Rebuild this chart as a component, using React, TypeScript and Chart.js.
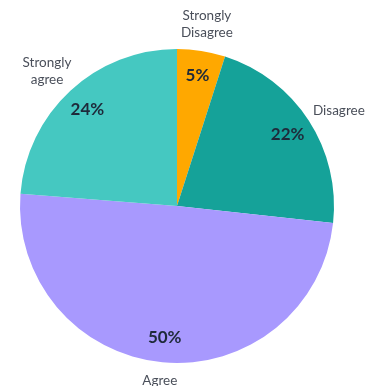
import React, { useEffect, useRef } from "react";
import { Chart, registerables } from "chart.js";

Chart.register(...registerables);

const categories = ["Strongly Disagree", "Disagree", "Agree", "Strongly agree"];
const categoryLines = [["Strongly", "Disagree"], ["Disagree"], ["Agree"], ["Strongly", "agree"]];
const values = [5, 22, 50, 24];
const colors = ["#FFA800", "#15A299", "#A899FE", "#45C8C1"];

const labelPlugin = {
  id: "pieLabels",
  afterDatasetsDraw(chart: any) {
    const ctx = chart.ctx;
    const meta = chart.getDatasetMeta(0);
    ctx.save();
    meta.data.forEach((arc: any, i: number) => {
      const p = arc.getProps(["x", "y", "startAngle", "endAngle", "outerRadius"], true);
      const mid = (p.startAngle + p.endAngle) / 2;
      const c = Math.cos(mid);
      const s = Math.sin(mid);
      // inner percentage
      const ir = p.outerRadius * 0.84;
      ctx.font = "bold 17px Lato, 'Open Sans', sans-serif";
      ctx.fillStyle = "#1E2A3A";
      ctx.textAlign = "center";
      ctx.textBaseline = "middle";
      ctx.fillText(values[i] + "%", p.x + c * ir, p.y + s * ir);
      // outer category label
      const lines = categoryLines[i];
      ctx.font = "13.5px Lato, 'Open Sans', sans-serif";
      ctx.fillStyle = "#4A4F5A";
      const lh = 17;
      const w = Math.max(...lines.map((l: string) => ctx.measureText(l).width));
      const h = lines.length * lh;
      const or = p.outerRadius + 10;
      const ax = p.x + c * or;
      const ay = p.y + s * or;
      const cx = ax + c * w / 2;
      const cy = ay + s * h / 2;
      lines.forEach((l: string, k: number) => {
        ctx.fillText(l, cx, cy - h / 2 + lh / 2 + k * lh);
      });
    });
    ctx.restore();
  },
};

export default function App() {
  const ref = useRef<HTMLCanvasElement>(null);
  useEffect(() => {
    const chart = new Chart(ref.current as HTMLCanvasElement, {
      type: "pie",
      data: {
        labels: categories,
        datasets: [
          {
            data: values,
            backgroundColor: colors,
            borderWidth: 0,
          },
        ],
      },
      options: {
        animation: false,
        responsive: false,
        devicePixelRatio: 1,
        layout: { padding: { left: 20, right: 36, top: 49, bottom: 23 } },
        plugins: {
          legend: { display: false },
          tooltip: { enabled: false },
          title: { display: false },
        },
      },
      plugins: [labelPlugin],
    });
    return () => chart.destroy();
  }, []);
  return (
    <div style={{ position: "fixed", left: 0, top: 0, width: 370, height: 386, background: "#fff" }}>
      <canvas ref={ref} width={370} height={386} />
    </div>
  );
}
